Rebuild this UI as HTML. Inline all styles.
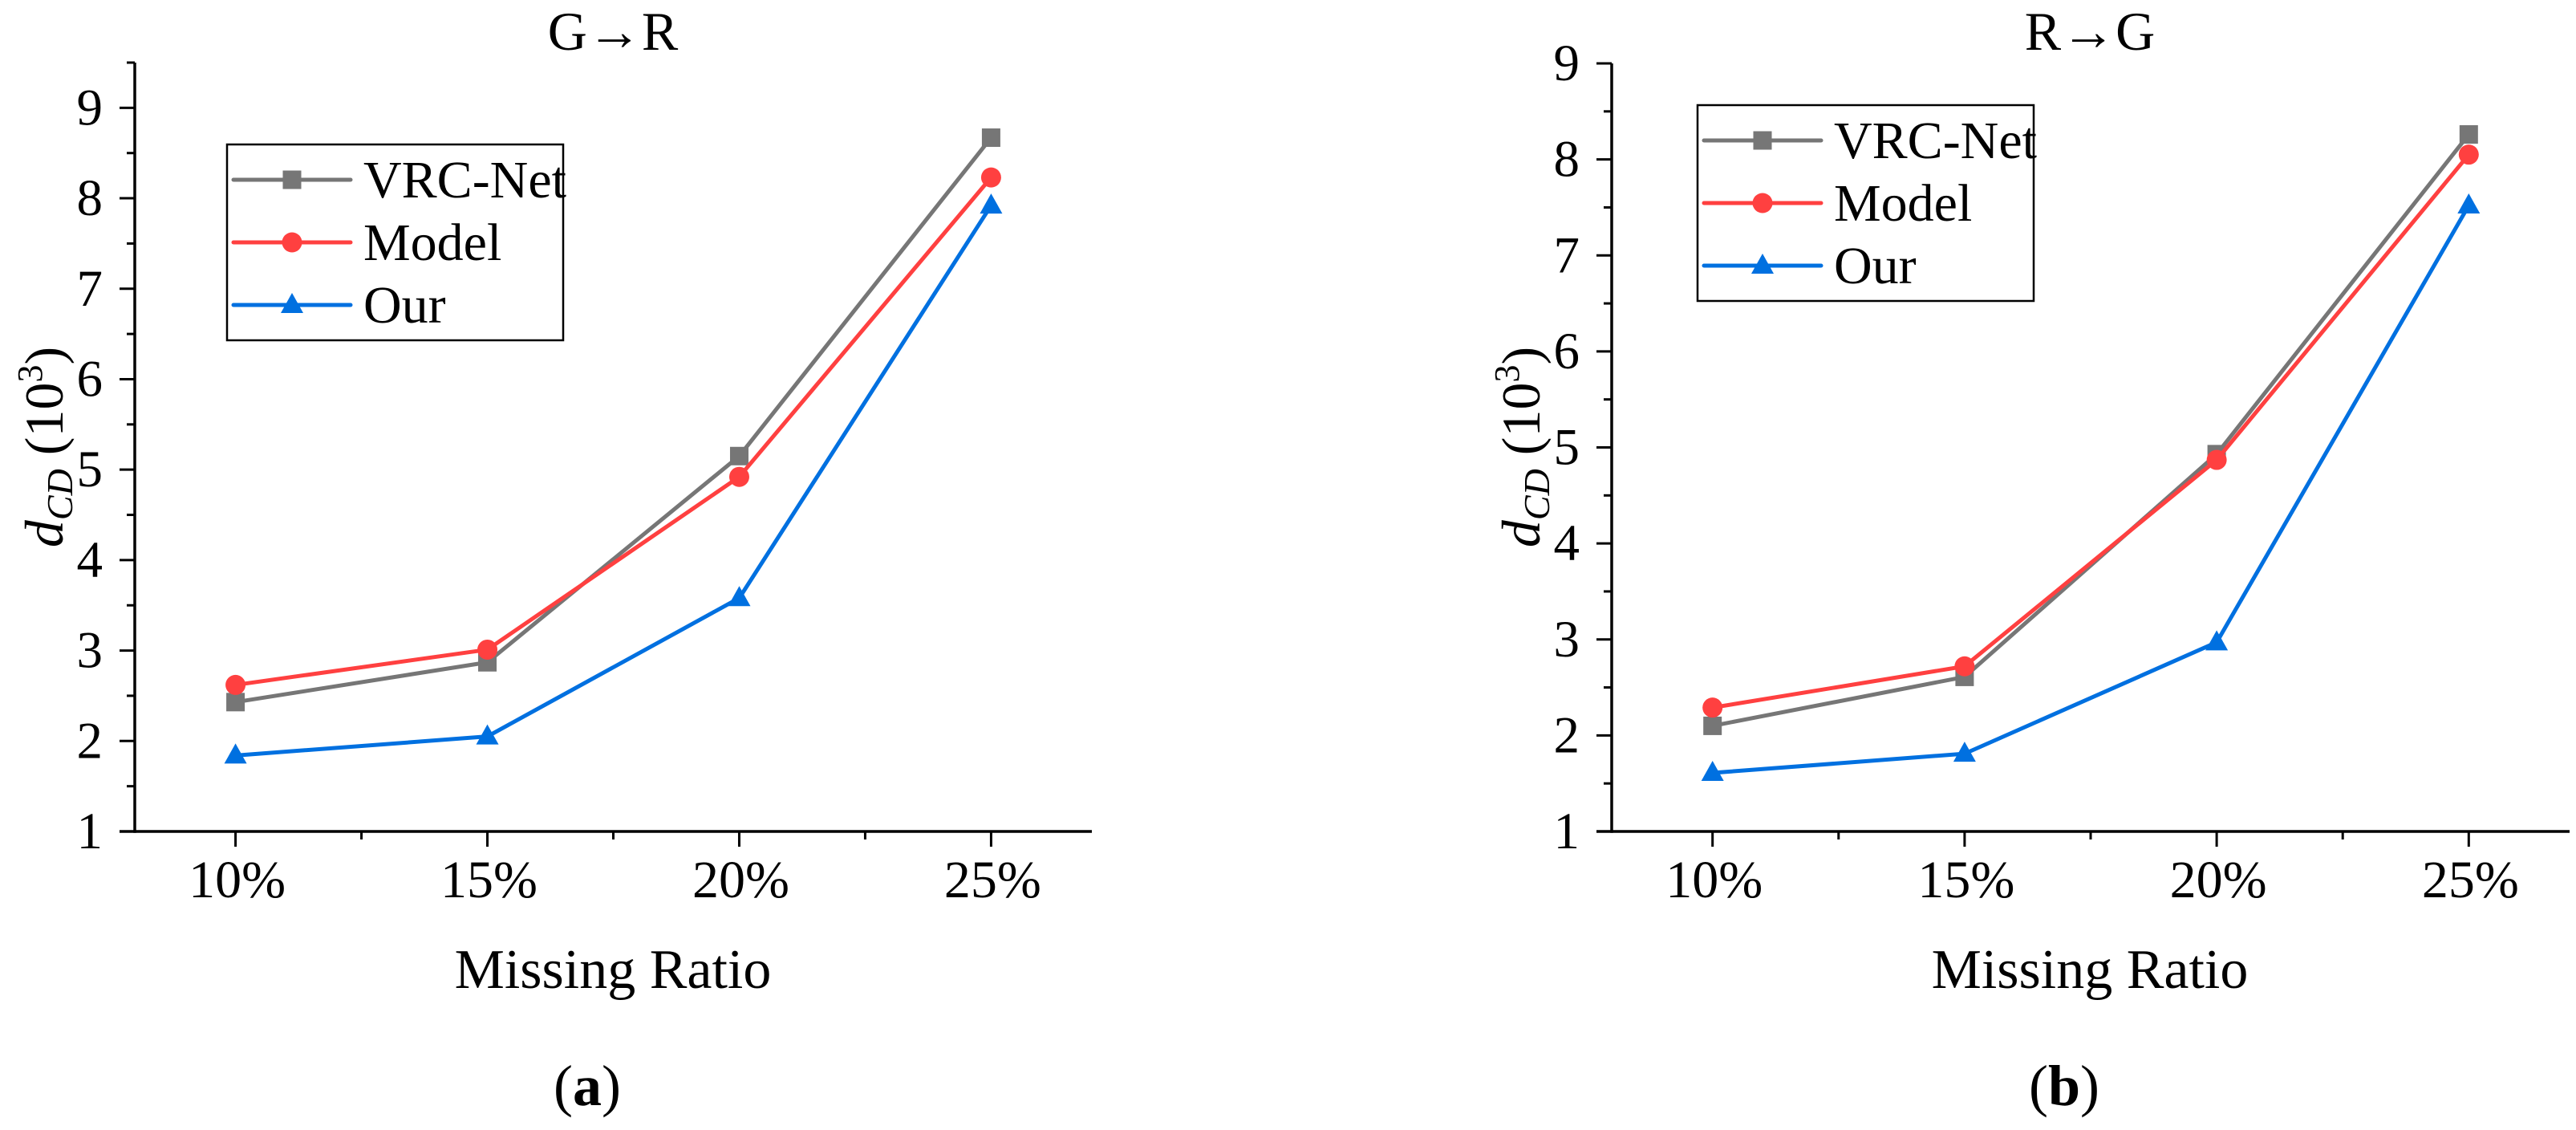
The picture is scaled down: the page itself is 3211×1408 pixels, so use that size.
<!DOCTYPE html>
<html><head><meta charset="utf-8"><style>
html,body{margin:0;padding:0;background:#fff}
svg{display:block}
svg text, svg tspan{font-family:"Liberation Serif","Times New Roman",serif !important;fill:#000}
</style></head><body>
<svg id="fig" width="3211" height="1408" viewBox="0 0 3211 1408" xmlns="http://www.w3.org/2000/svg" font-family="Liberation Serif, serif"></svg>
<script>
const categories = ["10%","15%","20%","25%"];
const seriesNames = ["VRC-Net","Model","Our"];
const aVRC = [2.43, 2.87, 5.15, 8.67];
const aModel = [2.62, 3.01, 4.92, 8.23];
const aOur = [1.84, 2.05, 3.58, 7.92];
const bVRC = [2.10, 2.61, 4.93, 8.26];
const bModel = [2.29, 2.72, 4.87, 8.05];
const bOur = [1.61, 1.81, 2.97, 7.52];
const yTicksA = [1,2,3,4,5,6,7,8,9];
const yTicksB = [1,2,3,4,5,6,7,8,9];

const NS = "http://www.w3.org/2000/svg";
const svg = document.getElementById('fig');
function mk(tag, attrs, parent){
  const e = document.createElementNS(NS, tag);
  for (const k in attrs) e.setAttribute(k, attrs[k]);
  if (tag === 'text') e.setAttribute('font-family', 'Liberation Serif, serif');
  (parent||svg).appendChild(e);
  return e;
}
const colors = ["#767676","#FF4040","#0070E0"];
const LW = 5;

function panel(p){
  const g = mk('g', {});
  
  
  const xs = i => p.x0 + ((i + 1) - p.xmin) / (p.xmax - p.xmin) * (p.x1 - p.x0);
  const ys = v => p.yb - (v - p.ymin) / (p.ymax - p.ymin) * (p.yb - p.yt);
  const ax = mk('line', {x1:p.x0-19, y1:p.yb, x2:p.x1, y2:p.yb, stroke:'#000','stroke-width':3.5}, g);
  
  
  const ay = mk('line', {x1:p.x0, y1:p.yt, x2:p.x0, y2:p.yb+1.7, stroke:'#000','stroke-width':3.5}, g);
  
  
  categories.forEach((c,i)=>{
    const x = xs(i);
    mk('line',{x1:x,y1:p.yb,x2:x,y2:p.yb+19,stroke:'#000','stroke-width':3},g);
    if (i < categories.length-1){
      const xm = (x + xs(i+1))/2;
      mk('line',{x1:xm,y1:p.yb,x2:xm,y2:p.yb+10,stroke:'#000','stroke-width':3},g);
    }
    const t = mk('text',{x:x+2,y:1118,'font-size':66,'text-anchor':'middle'},g);
    t.textContent = c;
    
    
  });
  p.yTicks.forEach(v=>{
    const y = ys(v);
    mk('line',{x1:p.x0-19,y1:y,x2:p.x0,y2:y,stroke:'#000','stroke-width':3},g);
    if (v + 0.5 <= p.ymax) mk('line',{x1:p.x0-10,y1:ys(v+0.5),x2:p.x0,y2:ys(v+0.5),stroke:'#000','stroke-width':3},g);
    const t = mk('text',{x:p.x0-40,y:y+21,'font-size':65,'text-anchor':'end'},g);
    t.textContent = v;
    
    
  });
  const data = [p.vrc, p.model, p.our];
  data.forEach((arr, si)=>{
    const pts = arr.map((v,i)=>xs(i)+','+ys(v)).join(' ');
    const pl = mk('polyline',{points:pts,fill:'none',stroke:colors[si],'stroke-width':LW,'stroke-linejoin':'round'},g);
    
    
    arr.forEach((v,i)=>{
      const m = marker(g, si, xs(i), ys(v));
      
      
    });
  });
  const lg = mk('g',{},g);
  
  
  mk('rect',{x:p.lx,y:p.ly,width:419,height:244,fill:'#fff',stroke:'#000','stroke-width':2.5},lg);
  seriesNames.forEach((n,si)=>{
    const cy = p.ly + 44 + si*78;
    const e = mk('g',{},lg);
    
    
    mk('line',{x1:p.lx+8,y1:cy,x2:p.lx+154,y2:cy,stroke:colors[si],'stroke-width':LW,'stroke-linecap':'round'},e);
    marker(e, si, p.lx+81, cy);
    const t = mk('text',{x:p.lx+170,y:cy+22,'font-size':66},e);
    t.textContent = n;
  });
  const ti = mk('text',{x:p.cx,y:62,'font-size':68,'text-anchor':'middle'},g);
  ti.textContent = p.title;
  
  
  const xt = mk('text',{x:p.cx,y:1231,'font-size':70,'text-anchor':'middle'},g);
  xt.textContent = 'Missing Ratio';
  
  
  const yt = mk('text',{x:0,y:0,'font-size':68,'text-anchor':'middle',transform:`translate(${p.ytx},557) rotate(-90)`},g);
  yt.innerHTML = '<tspan font-style="italic">d</tspan><tspan font-style="italic" font-size="46" dy="12">CD</tspan><tspan dy="-12"> (10</tspan><tspan font-size="44" dy="-26">3</tspan><tspan dy="26">)</tspan>';
  
  
  const cap = mk('text',{x:p.capx,y:1377,'font-size':72,'text-anchor':'middle'},g);
  cap.innerHTML = '(<tspan font-weight="bold">' + p.cap + '</tspan>)';
  
  
}
function marker(parent, si, x, y){
  if (si===0) return mk('rect',{x:x-11.5,y:y-11.5,width:23,height:23,fill:colors[0]},parent);
  if (si===1) return mk('circle',{cx:x,cy:y,r:12.5,fill:colors[1]},parent);
  return mk('polygon',{points:`${x},${y-15} ${x-14},${y+10} ${x+14},${y+10}`,fill:colors[2]},parent);
}
panel({id:'a',x0:168,x1:1361,yb:1036,yt:78,xmin:0.6,xmax:4.4,ymin:1,ymax:9.5,yTicks:yTicksA,
  vrc:aVRC,model:aModel,our:aOur,lx:283,ly:180,cx:764,ytx:78,title:'G\u2192R',cap:'a',capx:732});
panel({id:'b',x0:2009,x1:3203,yb:1036,yt:79,xmin:0.6,xmax:4.4,ymin:1,ymax:9,yTicks:yTicksB,
  vrc:bVRC,model:bModel,our:bOur,lx:2116,ly:131,cx:2605,ytx:1919,title:'R\u2192G',cap:'b',capx:2573});
</script>
</body></html>
